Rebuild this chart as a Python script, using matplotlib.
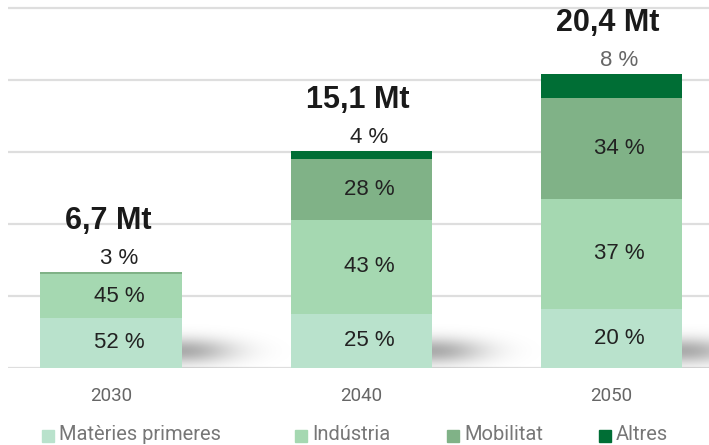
import numpy as np
import matplotlib
matplotlib.use("Agg")
import matplotlib.pyplot as plt
from matplotlib.patches import Rectangle

# data
years = ["2030", "2040", "2050"]
totals = [6.7, 15.1, 20.4]
materies = [52, 25, 20]
industria = [45, 43, 37]
mobilitat = [3, 28, 34]
altres = [0, 4, 8]
series_names = ["Matèries primeres", "Indústria", "Mobilitat", "Altres"]

colors = ["#b9e2cc", "#a5d8b1", "#80b287", "#006e35"]
top_label_colors = ["#222222", "#222222", "#666666"]

W, H = 709, 445
fig = plt.figure(figsize=(W / 100, H / 100), dpi=100)
ax = fig.add_axes([8 / W, 1 - 368 / H, 701 / W, 368 / H])

px_per_unit = 14.4
ax.set_yticks([0, 5, 10, 15, 20, 25])
ax.yaxis.grid(True, color="#dedede", linewidth=1.6)
ax.set_axisbelow(True)
ax.tick_params(axis="y", length=0, labelleft=False)
for s in ax.spines.values():
    s.set_visible(False)

x = np.arange(len(years))
width = 0.564
shares = np.array([materies, industria, mobilitat, altres], dtype=float)
heights = shares / shares.sum(axis=0) * np.array(totals)

# soft shadow to the right of each bar foot
gx = np.linspace(-15, 130, 220)
gy = np.linspace(0, 75, 120)
GX, GY = np.meshgrid(gx, gy)
g = np.exp(-(GX / 52.0) ** 2 - ((GY - 17) / 13.0) ** 2)
rgba = np.zeros(g.shape + (4,))
rgba[..., 3] = 0.33 * g
for xi in x:
    xr = xi + width / 2
    ax.imshow(rgba, origin="lower", aspect="auto", interpolation="bilinear",
              extent=[xr + gx[0] / 250, xr + gx[-1] / 250, 0, gy[-1] / px_per_unit],
              zorder=1.5)
ax.set_xlim(-0.412, 2.392)
ax.set_ylim(0, 368 / px_per_unit)

bottom = np.zeros(len(years))
for k in range(len(series_names)):
    ax.bar(x, heights[k], width, bottom=bottom, color=colors[k], zorder=2,
           linewidth=0)
    bottom = bottom + heights[k]

# percentage labels
for i in range(len(years)):
    nz = [k for k in range(4) if shares[k, i] > 0]
    top_k = nz[-1]
    base = 0.0
    for k in nz:
        h = heights[k, i]
        label = f"{int(shares[k, i])} %"
        if k == top_k and shares[k, i] < 10:
            ax.annotate(label, (x[i], totals[i]), xytext=(8, 3),
                        textcoords="offset pixels", ha="center", va="bottom",
                        fontsize=16, family="Liberation Sans",
                        color=top_label_colors[i], zorder=4)
        else:
            ax.annotate(label, (x[i], base + h / 2), xytext=(8, 0),
                        textcoords="offset pixels", ha="center", va="center",
                        fontsize=16, family="Liberation Sans",
                        color="#222222", zorder=4)
        base += h
    ax.annotate(f"{totals[i]:.1f}".replace(".", ",") + " Mt", (x[i], totals[i]),
                xytext=(-3, 43), textcoords="offset pixels", ha="center",
                va="baseline", fontsize=22, fontweight="bold",
                family="Liberation Sans", color="#1a1a1a", zorder=4)

ax.set_xticks(x)
ax.set_xticklabels(years, family="Roboto", fontsize=13.5, color="#666666")
ax.tick_params(axis="x", length=0, pad=14)

# legend along the bottom edge
sq_x = [42, 295, 447, 599]
for k, name in enumerate(series_names):
    fig.patches.append(Rectangle((sq_x[k] / W, 3 / H), 12 / W, 12 / H,
                                 transform=fig.transFigure, color=colors[k]))
    fig.text((sq_x[k] + 17) / W, 4.5 / H, name, family="Roboto", fontsize=14.5,
             color="#777777", va="baseline", ha="left")

fig.savefig("out.png", dpi=100)
